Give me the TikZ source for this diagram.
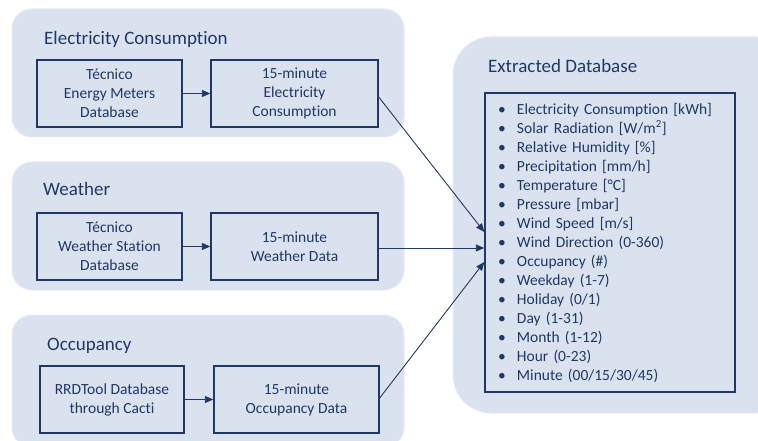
\documentclass[tikz,border=0pt]{standalone}
\usepackage{fontspec}
\setmainfont{Carlito}[Ligatures={NoCommon}]
\usetikzlibrary{arrows.meta}
\definecolor{navy}{HTML}{1F3864}
\definecolor{panelbg}{HTML}{DAE2F0}
\definecolor{panelrim}{HTML}{E6EBF3}
\begin{document}
\begin{tikzpicture}[x=1pt,y=-1pt,
  panel/.style={fill=panelbg, draw=panelrim, line width=1pt, rounded corners=20pt, inner sep=0pt},
  srcbox/.style={draw=navy, line width=1.4pt, text=navy, align=center, inner sep=0pt,
    minimum height=67pt, font=\fontsize{15.5}{19}\selectfont},
  grouptitle/.style={text=navy, anchor=base west, inner sep=0pt, font=\fontsize{19}{22}\selectfont},
  link/.style={draw=navy, line width=0.9pt, -{Triangle[length=8.5pt,width=7pt]}}]
\useasboundingbox (0,0) rectangle (758,441);
\clip (0,0) rectangle (758,441);

% group panels
\node[panel, minimum width=392pt, minimum height=128pt] (pElec) at (208,73) {};
\node[panel, minimum width=392pt, minimum height=128pt] (pWeat) at (208,226) {};
\node[panel, minimum width=392pt, minimum height=132pt] (pOcc)  at (208,381) {};
\node[panel, rounded corners=38pt, minimum width=340pt, minimum height=376pt] (pDb) at (623,225) {};

% group titles
\node[grouptitle] (tElec) at (44,44.5) {Electricity Consumption};
\node[grouptitle] (tWeat) at (43,195.5) {Weather};
\node[grouptitle] (tOcc)  at (47,350) {Occupancy};
\node[grouptitle] (tDb)   at (488,72.5) {Extracted Database};

% electricity chain
\node[srcbox, minimum width=145pt] (eA) at (109.5,93.5) {Técnico\\Energy Meters\\Database};
\node[srcbox, minimum width=167pt] (eB) at (294.5,93.5) {15-minute\\Electricity\\Consumption};

% weather chain
\node[srcbox, minimum width=145pt] (wA) at (109.5,246.5) {Técnico\\Weather Station\\Database};
\node[srcbox, minimum width=167pt] (wB) at (294.5,246.5) {15-minute\\Weather Data};

% occupancy chain
\node[srcbox, minimum width=144pt] (oA) at (112,399.5) {RRDTool Database\\through Cacti};
\node[srcbox, minimum width=165pt] (oB) at (296.5,399.5) {15-minute\\Occupancy Data};

% extracted variables
\newcommand{\itm}[1]{\makebox[19pt][l]{•}#1\\}
\node[srcbox, align=left, minimum width=250pt, minimum height=299pt, text width=224pt,
      inner xsep=13pt] (db) at (610,242.5) {%
  \itm{Electricity Consumption [kWh]}
  \itm{Solar Radiation [W/m\textsuperscript{2}]}
  \itm{Relative Humidity [\%]}
  \itm{Precipitation [mm/h]}
  \itm{Temperature [°C]}
  \itm{Pressure [mbar]}
  \itm{Wind Speed [m/s]}
  \itm{Wind Direction (0-360)}
  \itm{Occupancy (\#)}
  \itm{Weekday (1-7)}
  \itm{Holiday (0/1)}
  \itm{Day (1-31)}
  \itm{Month (1-12)}
  \itm{Hour (0-23)}
  \makebox[19pt][l]{•}Minute (00/15/30/45)};

% connectors
\draw[link] (eA) -- (eB);
\draw[link] (wA) -- (wB);
\draw[link] (oA) -- (oB);
\draw[link] ([yshift=-3.5pt]eB.east) -- ([yshift=10.5pt]db.west);
\draw[link] ([yshift=-1.5pt]wB.east) -- ([yshift=-5.5pt]db.west);
\draw[link] ([yshift=1.5pt]oB.east) -- ([yshift=-19.5pt]db.west);
\end{tikzpicture}
\end{document}
